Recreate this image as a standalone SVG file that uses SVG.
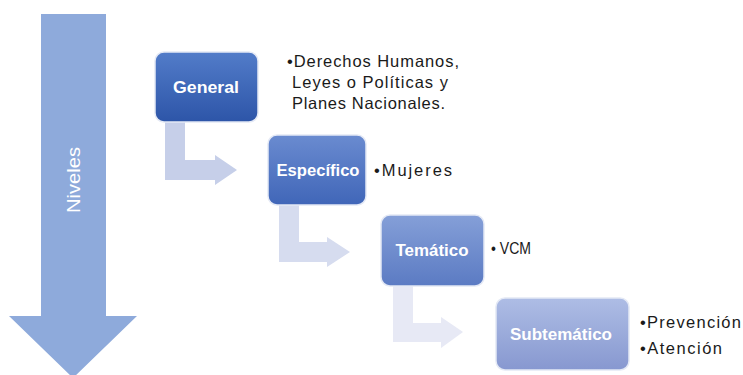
<svg xmlns="http://www.w3.org/2000/svg" width="743" height="375" viewBox="0 0 743 375">
<defs>
<linearGradient id="g1" x1="0" y1="0" x2="0" y2="1"><stop offset="0" stop-color="#527cc9"/><stop offset="1" stop-color="#2d55a8"/></linearGradient>
<linearGradient id="g2" x1="0" y1="0" x2="0" y2="1"><stop offset="0" stop-color="#6a8bd0"/><stop offset="1" stop-color="#4066b8"/></linearGradient>
<linearGradient id="g3" x1="0" y1="0" x2="0" y2="1"><stop offset="0" stop-color="#859fd8"/><stop offset="1" stop-color="#5b7bc3"/></linearGradient>
<linearGradient id="g4" x1="0" y1="0" x2="0" y2="1"><stop offset="0" stop-color="#aebde5"/><stop offset="1" stop-color="#8798d0"/></linearGradient>
<style>
.lbl{font-family:"Liberation Sans",Arial,sans-serif;font-weight:bold;font-size:16px;fill:#ffffff;text-anchor:middle}
.txt{font-family:"Liberation Sans",Arial,sans-serif;font-size:16.5px;fill:#1a1a1a}
.box{stroke:#e4e9f5;stroke-width:1.5}
</style>
</defs>
<rect width="743" height="375" fill="#ffffff"/>
<g id="niveles">
<polygon points="41,14 106,14 106,316 137,316 73,378 9,316 41,316" fill="#8eaadb"/>
<text x="0" y="0" transform="translate(80,180) rotate(-90)" font-family="'Liberation Sans',Arial,sans-serif" font-size="19" fill="#ffffff" text-anchor="middle" textLength="66" lengthAdjust="spacingAndGlyphs">Niveles</text>
</g>
<g id="connectors">
<polygon points="165,122 185,122 185,160 215,160 215,155 237,170 215,185 215,180 165,180" fill="#c6cfe9"/>
<polygon points="279,205 299,205 299,242 327,242 327,237 350,252 327,267 327,262 279,262" fill="#d6dcef"/>
<polygon points="393,286 413,286 413,323 441,323 441,317 463,332 441,348 441,342 393,342" fill="#e7e9f5"/>
</g>
<g id="general">
<rect class="box" x="155" y="52" width="103" height="70" rx="9" fill="url(#g1)"/>
<text class="lbl" x="206" y="93" textLength="66" lengthAdjust="spacingAndGlyphs">General</text>
</g>
<g id="especifico">
<rect class="box" x="268" y="135" width="98" height="70" rx="9" fill="url(#g2)"/>
<text class="lbl" x="318" y="176" textLength="83" lengthAdjust="spacingAndGlyphs">Específico</text>
</g>
<g id="tematico">
<rect class="box" x="381" y="215" width="103" height="71" rx="9" fill="url(#g3)"/>
<text class="lbl" x="432" y="256" textLength="73" lengthAdjust="spacingAndGlyphs">Temático</text>
</g>
<g id="subtematico">
<rect class="box" x="496" y="298" width="133" height="72" rx="9" fill="url(#g4)"/>
<text class="lbl" x="561" y="340" textLength="102" lengthAdjust="spacingAndGlyphs">Subtemático</text>
</g>
<g id="notes">
<text class="txt" x="287" y="67" textLength="172" lengthAdjust="spacing">•Derechos Humanos,</text>
<text class="txt" x="292" y="88" textLength="156" lengthAdjust="spacing">Leyes o Políticas y</text>
<text class="txt" x="292" y="109" textLength="153" lengthAdjust="spacing">Planes Nacionales.</text>
<text class="txt" x="374" y="176" textLength="78" lengthAdjust="spacing">•Mujeres</text>
<text class="txt" x="491" y="254" textLength="40" lengthAdjust="spacingAndGlyphs">• VCM</text>
<text class="txt" x="640" y="328" textLength="101" lengthAdjust="spacing">•Prevención</text>
<text class="txt" x="640" y="354" textLength="82" lengthAdjust="spacing">•Atención</text>
</g>
</svg>
